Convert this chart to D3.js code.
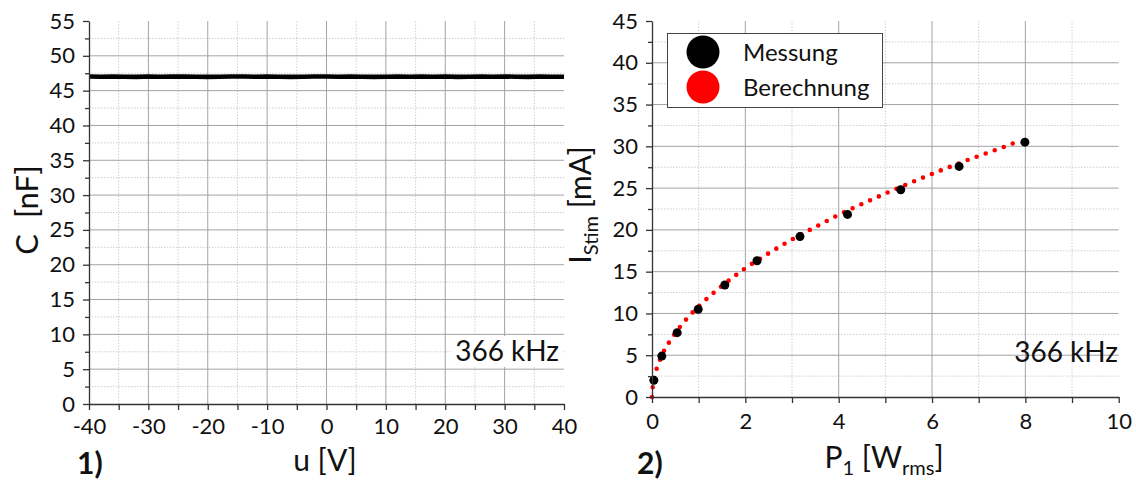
<!DOCTYPE html>
<html>
<head>
<meta charset="utf-8">
<script src="https://cdn.jsdelivr.net/npm/d3@7"></script>
<style>
  html, body { margin: 0; padding: 0; background: #fff; }
  svg { display: block; font-family: Lato, "Open Sans", sans-serif; }
  .grid-major { stroke: #a3a3a3; stroke-width: 1; }
  .grid-minor { stroke: #cfcfcf; stroke-width: 1; stroke-dasharray: 1.5 1.5; }
  .axis path, .axis line { stroke: #333; stroke-width: 1.3; }
  .axis text { fill: #111; font-size: 22px; font-family: Lato, "Open Sans", sans-serif; }
</style>
</head>
<body>
<svg id="chart" width="1136" height="483"></svg>
<script>
// Panel 1: capacitance versus bias voltage
const biasVoltage = [-40, -38, -36, -34, -32, -30, -28, -26, -24, -22, -20, -18, -16, -14, -12, -10, -8, -6, -4, -2,
  0, 2, 4, 6, 8, 10, 12, 14, 16, 18, 20, 22, 24, 26, 28, 30, 32, 34, 36, 38, 40];
const capacitance = [47.03, 47.0, 47.04, 47.0, 46.98, 47.02, 47.0, 47.03, 47.01, 47.0, 46.98, 47.0, 47.02, 47.03, 47.0,
  47.02, 47.0, 46.98, 47.0, 47.02, 47.03, 47.0, 47.02, 47.0, 46.98, 47.0, 47.02, 47.0, 47.03, 47.0, 47.02,
  46.98, 47.0, 47.02, 47.0, 47.03, 47.0, 46.98, 47.02, 47.0, 47.0];
const uTicks = [-40, -30, -20, -10, 0, 10, 20, 30, 40];
const uMinorTicks = [-35, -25, -15, -5, 5, 15, 25, 35];
const cTicks = [0, 5, 10, 15, 20, 25, 30, 35, 40, 45, 50, 55];
const cMinorTicks = [2.5, 7.5, 12.5, 17.5, 22.5, 27.5, 32.5, 37.5, 42.5, 47.5, 52.5];

// Panel 2: stimulation current versus electrical power
const powerMeasured = [0.04, 0.21, 0.54, 0.99, 1.56, 2.25, 3.17, 4.19, 5.33, 6.58, 7.99];
const currentMeasured = [2.0, 4.9, 7.7, 10.5, 13.4, 16.3, 19.2, 21.85, 24.8, 27.6, 30.5];
const powerCalc = [0, 0.02, 0.05, 0.1, 0.2, 0.35, 0.5, 0.75, 1, 1.5, 2, 2.5, 3, 3.5, 4, 4.5, 5, 5.5, 6, 6.5, 7, 7.5, 7.9];
const currentCalc = [0, 1.5, 2.4, 3.4, 4.85, 6.4, 7.65, 9.4, 10.85, 13.3, 15.4, 17.2, 18.85, 20.35, 21.8, 23.1,
  24.35, 25.55, 26.7, 27.8, 28.85, 29.85, 30.7];
const pTicks = [0, 2, 4, 6, 8, 10];
const pMinorTicks = [1, 3, 5, 7, 9];
const iTicks = [0, 5, 10, 15, 20, 25, 30, 35, 40, 45];
const iMinorTicks = [2.5, 7.5, 12.5, 17.5, 22.5, 27.5, 32.5, 37.5, 42.5];

const seriesNames = ["Messung", "Berechnung"];
const seriesColors = ["#000000", "#ff0000"];

const svg = d3.select("#chart");

const xL = d3.scaleLinear().domain([-40, 40]).range([89, 564]);
const yL = d3.scaleLinear().domain([0, 55]).range([404, 21]);
const xR = d3.scaleLinear().domain([0, 10]).range([652, 1118.7]);
const yR = d3.scaleLinear().domain([0, 45]).range([397, 21]);

// plain hyphen-minus for negative tick labels
const tickText = d => String(d);

function drawGrid(g, x, y, xMajor, xMinor, yMajor, yMinor) {
  const [x0, x1] = x.range();
  const [y0, y1] = y.range();
  g.selectAll(".gxm").data(xMinor).join("line").attr("class", "grid-minor")
    .attr("x1", d => x(d)).attr("x2", d => x(d)).attr("y1", y0).attr("y2", y1);
  g.selectAll(".gym").data(yMinor).join("line").attr("class", "grid-minor")
    .attr("x1", x0).attr("x2", x1).attr("y1", d => y(d)).attr("y2", d => y(d));
  g.selectAll(".gxM").data(xMajor.slice(1, -1)).join("line").attr("class", "grid-major")
    .attr("x1", d => x(d)).attr("x2", d => x(d)).attr("y1", y0).attr("y2", y1);
  g.selectAll(".gyM").data(yMajor.slice(1, -1)).join("line").attr("class", "grid-major")
    .attr("x1", x0).attr("x2", x1).attr("y1", d => y(d)).attr("y2", d => y(d));
}

function drawAxes(g, x, y, xMajor, xMinor, yMajor, yMinor, xPad, yPad) {
  const y0 = y.range()[0];
  const x0 = x.range()[0];
  g.append("g").attr("class", "axis").attr("transform", `translate(0,${y0})`)
    .call(d3.axisBottom(x).tickValues(xMinor).tickSize(6).tickFormat(""))
    .call(a => a.select(".domain").remove());
  g.append("g").attr("class", "axis").attr("transform", `translate(0,${y0})`)
    .call(d3.axisBottom(x).tickValues(xMajor).tickSize(6).tickSizeOuter(0).tickPadding(xPad).tickFormat(tickText));
  g.append("g").attr("class", "axis").attr("transform", `translate(${x0},0)`)
    .call(d3.axisLeft(y).tickValues(yMinor).tickSize(4).tickFormat(""))
    .call(a => a.select(".domain").remove());
  g.append("g").attr("class", "axis").attr("transform", `translate(${x0},0)`)
    .call(d3.axisLeft(y).tickValues(yMajor).tickSize(6).tickSizeOuter(0).tickPadding(yPad).tickFormat(tickText));
}

// ---------- Panel 1 ----------
const p1 = svg.append("g");
drawGrid(p1, xL, yL, uTicks, uMinorTicks, cTicks, cMinorTicks);

// frequency label with white backing
p1.append("rect").attr("x", 452).attr("y", 336).attr("width", 110).attr("height", 31).attr("fill", "#fff");
p1.append("text").attr("x", 559).attr("y", 361).attr("text-anchor", "end")
  .attr("font-size", 28).attr("fill", "#111").text("366 kHz");

p1.append("path")
  .datum(biasVoltage.map((u, i) => [u, capacitance[i]]))
  .attr("fill", "none").attr("stroke", "#000").attr("stroke-width", 4.6)
  .attr("d", d3.line().x(d => xL(d[0])).y(d => yL(d[1])));

drawAxes(p1, xL, yL, uTicks, uMinorTicks, cTicks, cMinorTicks, 8, 8);

p1.append("text").attr("x", 325).attr("y", 471).attr("text-anchor", "middle")
  .attr("font-size", 30).attr("fill", "#111").text("u [V]");
p1.append("text").attr("transform", "translate(38,210) rotate(-90)").attr("text-anchor", "middle")
  .attr("font-size", 31).attr("fill", "#111").attr("xml:space", "preserve").text("C  [nF]");
p1.append("text").attr("x", 77).attr("y", 474).attr("font-size", 30).attr("font-weight", "bold")
  .attr("fill", "#111").text("1)");

// ---------- Panel 2 ----------
const p2 = svg.append("g");
drawGrid(p2, xR, yR, pTicks, pMinorTicks, iTicks, iMinorTicks);

p2.append("text").attr("x", 1118).attr("y", 362).attr("text-anchor", "end")
  .attr("font-size", 28).attr("fill", "#111").text("366 kHz");

// calculated curve drawn as a round-dotted line
p2.append("path")
  .datum(powerCalc.map((p, i) => [p, currentCalc[i]]))
  .attr("fill", "none").attr("stroke", seriesColors[1]).attr("stroke-width", 4.6)
  .attr("stroke-linecap", "round").attr("stroke-dasharray", "0 9.6")
  .attr("d", d3.line().curve(d3.curveMonotoneX).x(d => xR(d[0])).y(d => yR(d[1])));

p2.selectAll(".meas").data(powerMeasured.map((p, i) => [p, currentMeasured[i]])).join("circle")
  .attr("cx", d => xR(d[0])).attr("cy", d => yR(d[1])).attr("r", 4.5).attr("fill", seriesColors[0]);

drawAxes(p2, xR, yR, pTicks, pMinorTicks, iTicks, iMinorTicks, 10, 8);

// legend
const lg = p2.append("g");
lg.append("rect").attr("x", 667.5).attr("y", 33.5).attr("width", 215).attr("height", 74)
  .attr("fill", "#fff").attr("stroke", "#444").attr("stroke-width", 1);
seriesNames.forEach((name, i) => {
  const cy = 52 + i * 35;
  lg.append("circle").attr("cx", 703).attr("cy", cy).attr("r", 16.5).attr("fill", seriesColors[i]);
  lg.append("text").attr("x", 743).attr("y", cy + 9).attr("font-size", 24).attr("fill", "#111").text(name);
});

// axis titles with subscripts
const xt = p2.append("text").attr("x", 884).attr("y", 468).attr("text-anchor", "middle")
  .attr("font-size", 30).attr("fill", "#111");
xt.append("tspan").text("P");
xt.append("tspan").attr("font-size", 20).attr("dy", 7).text("1");
xt.append("tspan").attr("dy", -7).text(" [W");
xt.append("tspan").attr("font-size", 20).attr("dy", 7).text("rms");
xt.append("tspan").attr("dy", -7).text("]");

const yt = p2.append("text").attr("transform", "translate(591,205) rotate(-90)").attr("text-anchor", "middle")
  .attr("font-size", 30).attr("fill", "#111");
yt.append("tspan").text("I");
yt.append("tspan").attr("font-size", 20).attr("dy", 7).text("Stim");
yt.append("tspan").attr("dy", -7).text(" [mA]");

p2.append("text").attr("x", 637).attr("y", 474).attr("font-size", 30).attr("font-weight", "bold")
  .attr("fill", "#111").text("2)");
</script>
</body>
</html>
